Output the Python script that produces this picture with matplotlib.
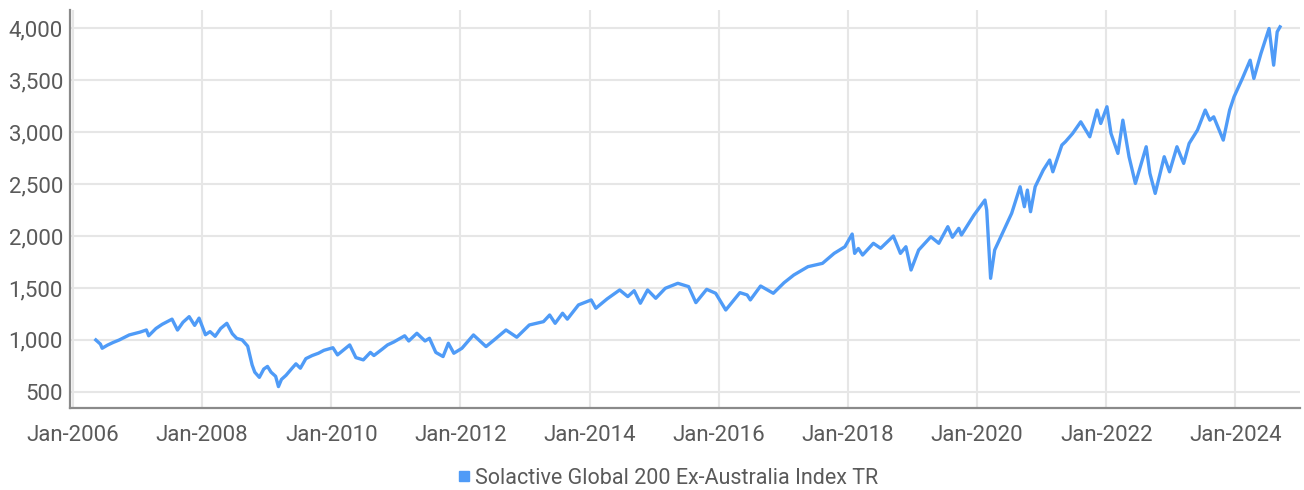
import matplotlib
matplotlib.use("Agg")
import matplotlib.pyplot as plt
import matplotlib.dates as mdates
from matplotlib.lines import Line2D
from matplotlib.ticker import FuncFormatter
import pandas as pd

plt.rcParams['font.family'] = ['Roboto', 'DejaVu Sans']
plt.rcParams['font.weight'] = 'normal'

series_name = "Solactive Global 200 Ex-Australia Index TR"

dates = [
    "2006-05-10", "2006-06-05", "2006-06-15", "2006-07-15", "2006-08-15", "2006-09-20",
    "2006-11-15", "2007-01-15", "2007-02-20", "2007-03-05", "2007-04-15", "2007-05-20",
    "2007-07-15", "2007-08-15", "2007-09-15", "2007-10-20", "2007-11-20", "2007-12-15",
    "2008-01-20", "2008-02-15", "2008-03-15", "2008-04-15", "2008-05-20", "2008-06-20",
    "2008-07-15", "2008-08-15", "2008-09-15", "2008-10-10", "2008-10-25", "2008-11-20",
    "2008-12-15", "2009-01-05", "2009-01-25", "2009-02-20", "2009-03-08", "2009-03-25",
    "2009-04-20", "2009-05-20", "2009-06-15", "2009-07-10", "2009-08-10", "2009-09-15",
    "2009-10-20", "2009-11-20", "2010-01-10", "2010-02-05", "2010-04-15", "2010-05-20",
    "2010-07-01", "2010-08-10", "2010-08-30", "2010-10-15", "2010-11-15", "2010-12-20",
    "2011-02-20", "2011-03-15", "2011-04-30", "2011-06-15", "2011-07-10", "2011-08-15",
    "2011-09-25", "2011-10-25", "2011-11-25", "2012-01-10", "2012-03-15", "2012-05-25",
    "2012-07-10", "2012-09-15", "2012-11-15", "2013-01-25", "2013-04-15", "2013-05-20",
    "2013-06-20", "2013-08-01", "2013-08-28", "2013-10-30", "2014-01-10", "2014-02-05",
    "2014-04-10", "2014-06-20", "2014-08-05", "2014-09-10", "2014-10-15", "2014-11-25",
    "2015-01-10", "2015-03-05", "2015-05-15", "2015-07-15", "2015-08-25", "2015-10-25",
    "2015-12-15", "2016-02-10", "2016-04-30", "2016-06-10", "2016-06-28", "2016-08-25",
    "2016-11-05", "2017-01-05", "2017-03-01", "2017-05-20", "2017-08-10", "2017-10-15",
    "2017-12-15", "2018-01-25", "2018-02-08", "2018-03-01", "2018-03-25", "2018-05-25",
    "2018-07-05", "2018-09-15", "2018-10-25", "2018-11-25", "2018-12-24", "2019-02-05",
    "2019-04-15", "2019-05-30", "2019-07-20", "2019-08-15", "2019-09-20", "2019-10-05",
    "2019-12-15", "2020-02-15", "2020-02-25", "2020-03-18", "2020-04-10", "2020-06-10",
    "2020-07-15", "2020-09-01", "2020-09-25", "2020-10-12", "2020-10-30", "2020-11-25",
    "2021-01-10", "2021-02-15", "2021-03-05", "2021-04-25", "2021-05-15", "2021-06-25",
    "2021-08-10", "2021-09-30", "2021-11-10", "2021-12-01", "2022-01-05", "2022-01-28",
    "2022-03-08", "2022-04-05", "2022-05-10", "2022-06-15", "2022-08-15", "2022-09-05",
    "2022-10-05", "2022-11-25", "2022-12-25", "2023-02-05", "2023-03-15", "2023-04-15",
    "2023-06-01", "2023-07-15", "2023-08-10", "2023-09-01", "2023-10-25", "2023-11-30",
    "2023-12-25", "2024-02-10", "2024-03-25", "2024-04-15", "2024-05-25", "2024-07-10",
    "2024-08-05", "2024-08-25", "2024-09-10",
]

values = [
    1000, 960, 920, 950, 975, 1000,
    1048, 1075, 1096, 1040, 1110, 1150,
    1200, 1095, 1170, 1224, 1140, 1210,
    1050, 1080, 1035, 1110, 1160, 1060,
    1015, 1000, 940, 760, 690, 640,
    720, 745, 690, 650, 551, 620,
    660, 720, 770, 728, 820, 850,
    872, 900, 925, 856, 952, 830,
    808, 880, 850, 910, 952, 980,
    1040, 990, 1064, 990, 1016, 880,
    840, 968, 872, 920, 1048, 936,
    1000, 1096, 1026, 1144, 1176, 1240,
    1160, 1257, 1200, 1337, 1385, 1305,
    1395, 1481, 1417, 1474, 1353, 1481,
    1401, 1497, 1545, 1513, 1359, 1487,
    1449, 1288, 1455, 1433, 1385, 1519,
    1449, 1551, 1625, 1705, 1737, 1833,
    1897, 2019, 1833, 1880, 1817, 1930,
    1882, 2000, 1833, 1897, 1673, 1865,
    1993, 1930, 2090, 1988, 2074, 2010,
    2202, 2346, 2250, 1593, 1865, 2090,
    2218, 2474, 2282, 2442, 2234, 2474,
    2635, 2731, 2618, 2875, 2907, 2987,
    3099, 2955, 3212, 3083, 3244, 2987,
    2795, 3115, 2763, 2506, 2859, 2603,
    2410, 2763, 2618, 2859, 2699, 2891,
    3019, 3212, 3115, 3147, 2923, 3212,
    3340, 3516, 3692, 3516, 3756, 3997,
    3644, 3965, 4013,
]

y_ticks = [500, 1000, 1500, 2000, 2500, 3000, 3500, 4000]
x_tick_years = [2006, 2008, 2010, 2012, 2014, 2016, 2018, 2020, 2022, 2024]

line_color = "#4f9bf7"
grid_color = "#e6e6e6"
text_color = "#5a5a5a"
axis_color = "#8a8a8a"

W, H = 1304, 490
fig = plt.figure(figsize=(W / 100, H / 100), dpi=100)
ax = fig.add_axes([70 / W, 1 - 408 / H, (1300 - 70) / W, (408 - 10) / H])

x = pd.to_datetime(dates)
ax.plot(x, values, color=line_color, lw=2.4, solid_joinstyle="round", zorder=3)

ax.set_xlim(pd.Timestamp("2005-12-15"), pd.Timestamp("2025-01-01"))
ax.set_ylim(345, 4175)

ax.set_yticks(y_ticks)
ax.yaxis.set_major_formatter(FuncFormatter(lambda v, p: f"{int(v):,}"))
ax.set_xticks([pd.Timestamp(f"{y}-01-01") for y in x_tick_years])
ax.xaxis.set_major_formatter(mdates.DateFormatter("Jan-%Y"))

ax.grid(True, color=grid_color, lw=1.5, zorder=0)
ax.set_axisbelow(True)
for s in ("top", "right"):
    ax.spines[s].set_visible(False)
for s in ("left", "bottom"):
    ax.spines[s].set_color(axis_color)
    ax.spines[s].set_linewidth(1.6)

ax.tick_params(axis="both", length=0, labelsize=16, labelcolor=text_color)
ax.tick_params(axis="x", pad=12)
ax.tick_params(axis="y", pad=5)

handle = Line2D([], [], marker="s", color=line_color, linestyle="none", markersize=7)
fig.legend([handle], [series_name], loc="center", bbox_to_anchor=(668.5 / W, 1 - 478 / H),
           bbox_transform=fig.transFigure, frameon=False, fontsize=15.5,
           handlelength=0.5, handletextpad=0.25, borderpad=0, labelcolor=text_color)

fig.savefig("out.png", dpi=100)
